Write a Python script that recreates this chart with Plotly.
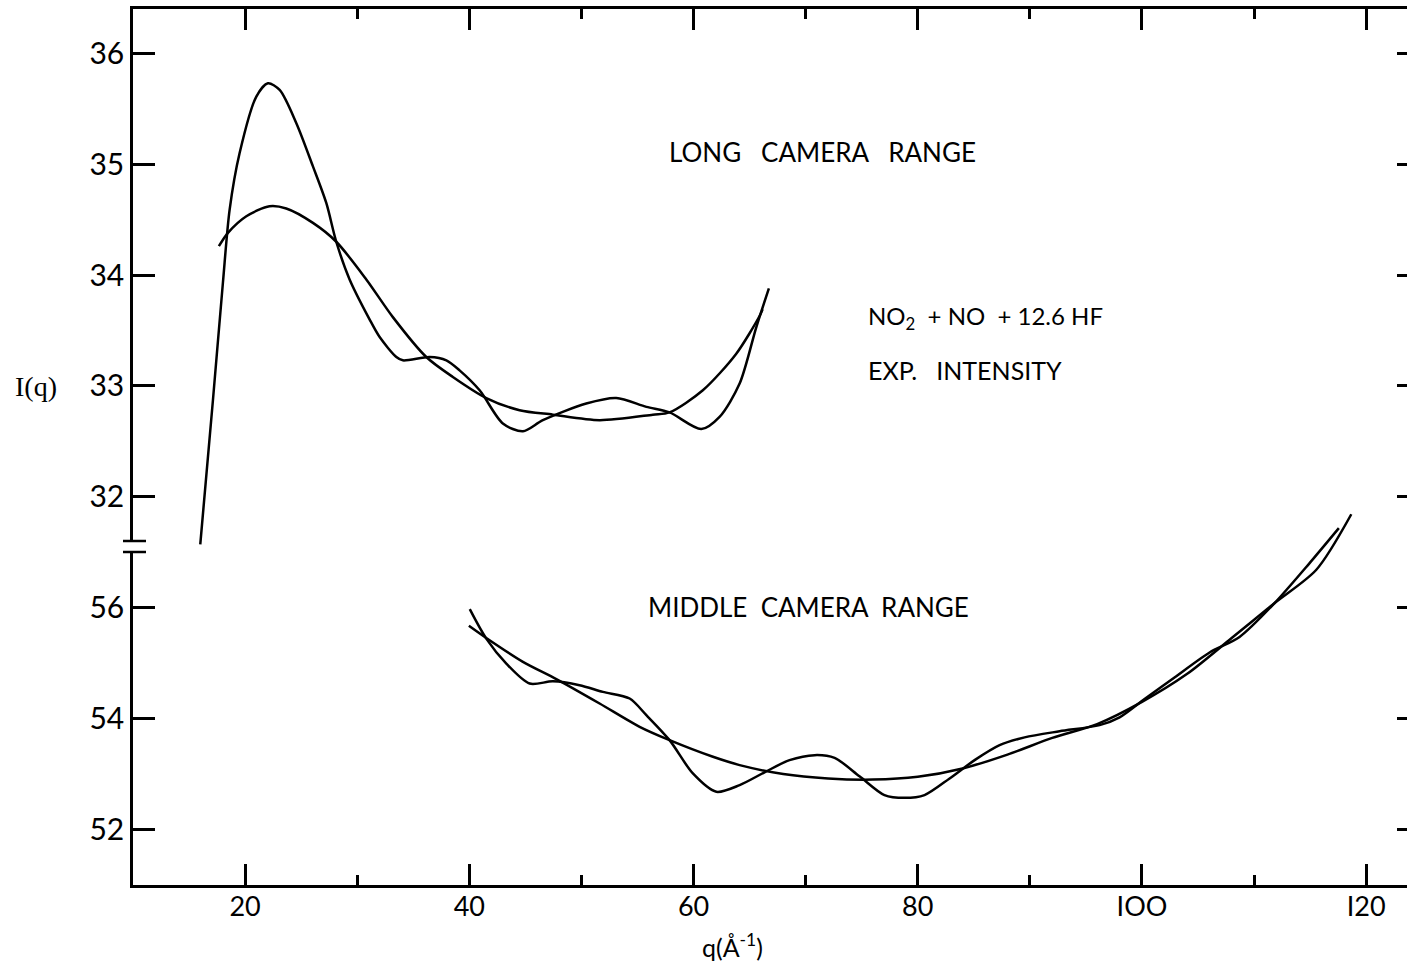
import plotly.graph_objects as go

# ---- long camera range (upper panel) ----
long_q_exp = [16.0, 17.13, 18.02, 18.62, 19.51, 21.0, 22.03, 23.08,
              24.57, 26.05, 27.24, 28.13, 29.32, 31.1, 32.0, 33.49, 34.07, 36.46,
              37.95, 39.13, 40.92, 42.99, 44.78, 46.56, 50.43, 53.11,
              55.79, 57.86, 60.69, 62.32, 64.11, 65.6, 66.72]
long_i_exp = [31.57, 32.87, 33.93, 34.59, 35.10, 35.61, 35.73, 35.67,
              35.37, 34.98, 34.65, 34.30, 33.96, 33.60, 33.44, 33.26, 33.23, 33.26,
              33.23, 33.14, 32.96, 32.66, 32.59, 32.69, 32.84, 32.89,
              32.81, 32.76, 32.61, 32.72, 33.02, 33.53, 33.88]

long_q_bg = [17.66, 18.47, 20.11, 22.18, 23.67, 26.05, 28.13, 30.81, 33.18, 36.16,
             38.53, 41.51, 44.48, 47.45, 51.62, 56.37, 57.86, 60.83, 63.81, 65.89, 66.16]
long_i_bg = [34.26, 34.38, 34.53, 34.62, 34.60, 34.47, 34.30, 33.96, 33.62, 33.26,
             33.08, 32.89, 32.78, 32.74, 32.69, 32.74, 32.76, 32.96, 33.29, 33.63, 33.69]

# ---- middle camera range (lower panel) ----
mid_q_exp = [40.04, 41.51, 43.3, 45.38, 47.45, 49.83, 51.91, 54.3, 55.79, 57.86,
             59.94, 62.03, 64.11, 66.33, 68.56, 70.8, 72.58, 74.8, 77.03, 78.82,
             80.6, 82.84, 85.07, 87.3, 89.53, 92.65, 96.22, 98.0, 100.23, 102.9,
             106.03, 108.7, 111.83, 114.95, 117.56]
mid_i_exp = [55.97, 55.44, 54.99, 54.63, 54.67, 54.60, 54.48, 54.36, 54.06, 53.61,
             53.01, 52.68, 52.80, 53.03, 53.25, 53.34, 53.29, 52.96, 52.62, 52.57,
             52.62, 52.92, 53.25, 53.52, 53.66, 53.77, 53.88, 54.02, 54.35, 54.74,
             55.19, 55.47, 56.08, 56.80, 57.43]

mid_q_bg = [39.96, 41.51, 44.78, 47.76, 51.62, 55.19, 57.86, 61.73, 64.11, 68.0,
            72.0, 76.0, 80.0, 84.0, 88.0, 92.0, 96.0, 100.0, 104.0, 108.0,
            111.83, 115.55, 118.67]
mid_i_bg = [55.67, 55.45, 55.02, 54.71, 54.27, 53.85, 53.61, 53.31, 53.16, 53.00,
            52.92, 52.90, 52.95, 53.10, 53.35, 53.65, 53.90, 54.30, 54.80, 55.45,
            56.08, 56.68, 57.68]

top_ticks = [32, 33, 34, 35, 36]
bottom_ticks = [52, 54, 56]
x_ticks = [20, 40, 60, 80, 100, 120]
x_ticktext = ["20", "40", "60", "80", "IOO", "I20"]
x_minor = [30, 50, 70, 90, 110]

FONT = "Lato"
INK = "black"

# pixel geometry of the frame
W, H = 1407, 971
L, R, T, B = 133, 0, 9, 86
plot_w = W - L - R
plot_h = H - T - B                 # 876
top_range = [31.6, 36.4]
bot_range = [51.0, 57.0]
top_dom = [(885 - 541) / plot_h, 1.0]
bot_dom = [0.0, (885 - 552) / plot_h]
x_range = [10, 10 + plot_w / 11.211]

# full-height helper scales so curves can run past a panel edge
top_ppu = (541 - 9) / (top_range[1] - top_range[0])
bot_ppu = (885 - 552) / (bot_range[1] - bot_range[0])
y3_range = [top_range[1] - plot_h / top_ppu, top_range[1]]
y4_range = [bot_range[0], bot_range[0] + plot_h / bot_ppu]

line = dict(color=INK, width=2.5, shape="spline", smoothing=0.8)

fig = go.Figure()
# empty placeholders so each frame subplot is built
for xa, ya in (("x", "y"), ("x2", "y2"), ("x2", "y5"), ("x", "y6")):
    fig.add_trace(go.Scatter(x=[None], y=[None], mode="lines", xaxis=xa, yaxis=ya,
                             showlegend=False, hoverinfo="skip"))

for qs, vals, ya in ((long_q_exp, long_i_exp, "y3"), (long_q_bg, long_i_bg, "y3"),
                     (mid_q_exp, mid_i_exp, "y4"), (mid_q_bg, mid_i_bg, "y4")):
    fig.add_trace(go.Scatter(x=qs, y=vals, mode="lines", line=line, xaxis="x", yaxis=ya,
                             showlegend=False, hoverinfo="skip"))

xcommon = dict(range=x_range, tickvals=x_ticks, ticks="inside", ticklen=21, tickwidth=2.5,
               tickcolor=INK, showline=True, linecolor=INK, linewidth=2.5,
               showgrid=False, zeroline=False,
               minor=dict(tickvals=x_minor, ticks="inside", ticklen=10,
                          tickwidth=2.5, tickcolor=INK, showgrid=False))
ycommon = dict(ticks="inside", ticklen=22, tickwidth=2.5, tickcolor=INK,
               showline=True, linecolor=INK, linewidth=2.5, showgrid=False,
               zeroline=False, tickfont=dict(family=FONT, size=30, color=INK))
rcommon = dict(ticks="inside", ticklen=10, tickwidth=2.5, tickcolor=INK,
               showline=False, showgrid=False, zeroline=False, showticklabels=False,
               side="right")

fig.update_layout(
    width=W, height=H,
    margin=dict(l=L, r=R, t=T, b=B, pad=0),
    paper_bgcolor="white", plot_bgcolor="rgba(0,0,0,0)",
    xaxis=dict(**xcommon, anchor="y", ticktext=x_ticktext, side="bottom",
               tickfont=dict(family=FONT, size=27, color=INK), ticklabelstandoff=-4),
    xaxis2=dict(**xcommon, anchor="y2", side="top", showticklabels=False),
    yaxis=dict(**ycommon, domain=bot_dom, range=bot_range, tickvals=bottom_ticks, anchor="x"),
    yaxis2=dict(**ycommon, domain=top_dom, range=top_range, tickvals=top_ticks, anchor="x2"),
    yaxis3=dict(domain=[0, 1], range=y3_range, visible=False, anchor="x"),
    yaxis4=dict(domain=[0, 1], range=y4_range, visible=False, anchor="x"),
    yaxis5=dict(**rcommon, overlaying="y2", anchor="x2", range=top_range, tickvals=top_ticks),
    yaxis6=dict(**rcommon, overlaying="y", anchor="x", range=bot_range, tickvals=bottom_ticks),
)

# axis break marks on the left spine
for py in (541, 552):
    fig.add_shape(type="line", xref="paper", yref="paper",
                  x0=(123 - L) / plot_w, x1=(146 - L) / plot_w,
                  y0=(885 - py) / plot_h, y1=(885 - py) / plot_h,
                  line=dict(color=INK, width=2.5))

nb = "\u00a0"
def note(text, x, y, ya, size=25):
    fig.add_annotation(text=text, xref="x", yref=ya, x=x, y=y, showarrow=False,
                       xanchor="left", yanchor="middle",
                       font=dict(family=FONT, size=size, color=INK))

note(f"LONG{nb}{nb}{nb}CAMERA{nb}{nb}{nb}RANGE", 57.6, 35.11, "y3", 26)
note(f"NO<sub>2</sub>{nb}{nb}+{nb}NO{nb}{nb}+{nb}12.6{nb}HF", 75.35, 33.62, "y3", 24)
note(f"EXP.{nb}{nb}{nb}INTENSITY", 75.35, 33.14, "y3", 25)
note(f"MIDDLE{nb}{nb}CAMERA{nb}{nb}RANGE", 55.8, 56.01, "y4", 26)

# axis titles
fig.add_annotation(text="I(q)", xref="paper", yref="paper",
                   x=(36 - L) / plot_w, y=(885 - 386) / plot_h, showarrow=False,
                   xanchor="center", yanchor="middle",
                   font=dict(family="Liberation Serif", size=28, color=INK))
fig.add_annotation(text="q(Å<sup>-1</sup>)", xref="x", yref="paper",
                   x=63.5, y=(885 - 945) / plot_h, showarrow=False,
                   xanchor="center", yanchor="middle",
                   font=dict(family=FONT, size=25, color=INK))

fig.write_html("out.html")
